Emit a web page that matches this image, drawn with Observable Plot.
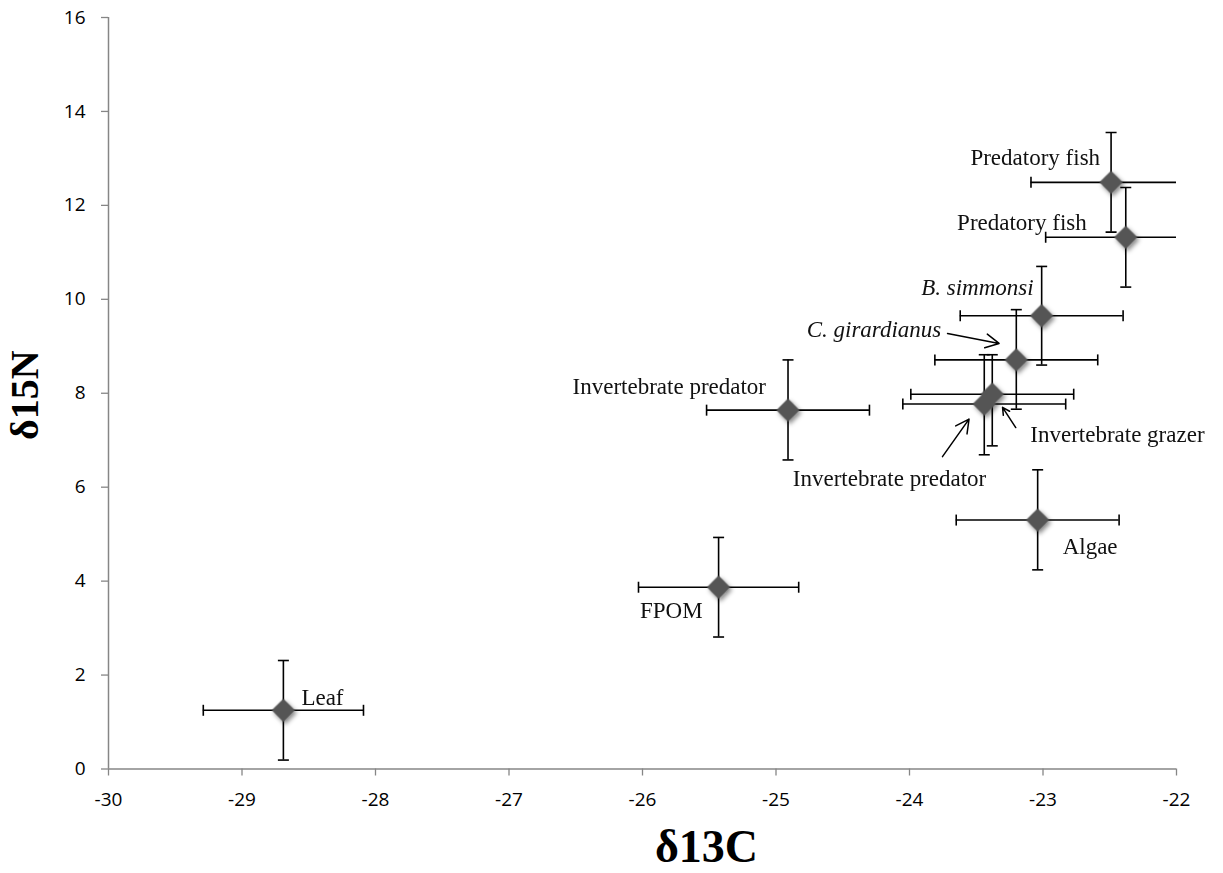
<!DOCTYPE html>
<html>
<head>
<meta charset="utf-8">
<script src="https://cdn.jsdelivr.net/npm/d3@7"></script>
<script src="https://cdn.jsdelivr.net/npm/@observablehq/plot@0.6"></script>
<style>
  html, body { margin: 0; padding: 0; background: #fff; }
  #chart svg { display: block; }
</style>
</head>
<body>
<div id="chart"></div>
<script>
// ---- Data ----
const groups  = ["Leaf", "FPOM", "Invertebrate predator", "Algae", "Invertebrate predator",
                 "Invertebrate grazer", "C. girardianus", "B. simmonsi", "Predatory fish", "Predatory fish"];
const d13C    = [-28.69, -25.43, -24.91, -23.04, -23.44, -23.38, -23.20, -23.01, -22.49, -22.38];
const d15N    = [1.25, 3.87, 7.64, 5.30, 7.77, 7.98, 8.71, 9.65, 12.49, 11.32];
const errC    = [0.60, 0.60, 0.61, 0.61, 0.61, 0.61, 0.61, 0.61, 0.60, 0.60];
const errNLo  = [1.06, 1.06, 1.06, 1.06, 1.08, 1.10, 1.05, 1.05, 1.06, 1.06];
const errNHi  = [1.06, 1.06, 1.07, 1.07, 1.05, 0.84, 1.07, 1.05, 1.06, 1.06];
const italic  = [false, false, false, false, false, false, true, true, false, false];
const xTicks  = [-30, -29, -28, -27, -26, -25, -24, -23, -22];
const yTicks  = [0, 2, 4, 6, 8, 10, 12, 14, 16];

const data = groups.map((g, i) => ({
  group: g, x: d13C[i], y: d15N[i],
  x1: d13C[i] - errC[i], x2: d13C[i] + errC[i],
  y1: d15N[i] - errNLo[i], y2: d15N[i] + errNHi[i],
  italic: italic[i]
}));

// label placement (pixel offsets, text anchor) per point
const labelPos = [
  {dx: 18, dy: -13, anchor: "start"},   // Leaf
  {dx: -16, dy: 23, anchor: "end"},     // FPOM
  {dx: -22, dy: -24, anchor: "end"},    // Invertebrate predator (left)
  {dx: 25, dy: 27, anchor: "start"},    // Algae
  {dx: 2, dy: 75, anchor: "end"},       // Invertebrate predator (arrow)
  {dx: 38, dy: 40, anchor: "start"},    // Invertebrate grazer (arrow)
  {dx: -75, dy: -30, anchor: "end"},    // C. girardianus (arrow)
  {dx: -8, dy: -28, anchor: "end"},     // B. simmonsi
  {dx: -11, dy: -25, anchor: "end"},    // Predatory fish
  {dx: -39, dy: -15, anchor: "end"}     // Predatory fish
];

// callout arrows, as offsets (data units) from the point they point to
const arrowIdx = [6, 5, 4];
const arrowFrom = [[-0.515, 0.56], [0.176, -0.71], [-0.313, -1.12]];
const arrowTo   = [[-0.129, 0.35], [0.077, -0.28], [-0.114, -0.32]];
const arrows = arrowIdx.map((k, j) => ({
  x1: d13C[k] + arrowFrom[j][0], y1: d15N[k] + arrowFrom[j][1],
  x2: d13C[k] + arrowTo[j][0],   y2: d15N[k] + arrowTo[j][1]
}));

// custom cap symbols
const capV = { draw(ctx, size) { const r = Math.sqrt(size / Math.PI); ctx.moveTo(0, -r); ctx.lineTo(0, r); } };
const capH = { draw(ctx, size) { const r = Math.sqrt(size / Math.PI); ctx.moveTo(-r, 0); ctx.lineTo(r, 0); } };

const axisGray = "#868686";
const serif = "'Liberation Serif', 'Times New Roman', serif";

const labelMarks = data.map((d, i) => Plot.text([d], {
  x: "x", y: "y", text: "group",
  dx: labelPos[i].dx, dy: labelPos[i].dy, textAnchor: labelPos[i].anchor,
  fontSize: 23, fontFamily: serif, fontStyle: d.italic ? "italic" : "normal",
  fill: "#111", lineAnchor: "middle"
}));

const chart = Plot.plot({
  width: 1223,
  height: 873,
  marginLeft: 108,
  marginRight: 47,
  marginTop: 17,
  marginBottom: 104.5,
  style: { background: "#fff", fontFamily: "'Open Sans', sans-serif" },
  x: { domain: [-30, -22] },
  y: { domain: [0, 16] },
  marks: [
    Plot.axisX({ ticks: xTicks, tickSize: 7, tickPadding: 16, stroke: axisGray, strokeWidth: 1.3,
                 fill: "#000", fontSize: 19, label: null, tickFormat: d => String(d).replace("−", "-") }),
    Plot.axisY({ ticks: yTicks, tickSize: 7, tickPadding: 16, stroke: axisGray, strokeWidth: 1.3,
                 fill: "#000", fontSize: 19, label: null }),
    Plot.ruleX([-30], { stroke: axisGray, strokeWidth: 1.5 }),
    Plot.ruleY([0], { stroke: axisGray, strokeWidth: 1.5 }),
    // error bars
    Plot.ruleY(data, { y: "y", x1: "x1", x2: "x2", stroke: "#000", strokeWidth: 1.6, clip: true }),
    Plot.ruleX(data, { x: "x", y1: "y1", y2: "y2", stroke: "#000", strokeWidth: 1.6, clip: true }),
    Plot.dot(data, { x: "x1", y: "y", symbol: capV, r: 5.5, stroke: "#000", strokeWidth: 1.6, fill: "none", clip: true }),
    Plot.dot(data, { x: "x2", y: "y", symbol: capV, r: 5.5, stroke: "#000", strokeWidth: 1.6, fill: "none", clip: true }),
    Plot.dot(data, { x: "x", y: "y1", symbol: capH, r: 5.5, stroke: "#000", strokeWidth: 1.6, fill: "none", clip: true }),
    Plot.dot(data, { x: "x", y: "y2", symbol: capH, r: 5.5, stroke: "#000", strokeWidth: 1.6, fill: "none", clip: true }),
    // markers
    Plot.dot(data, { x: "x", y: "y", symbol: "diamond2", r: 10.5, fill: "#555555", stroke: "none",
                     className: "markers" }),
    // callout arrows
    Plot.arrow(arrows, { x1: "x1", y1: "y1", x2: "x2", y2: "y2", stroke: "#000", strokeWidth: 1.5,
                         headLength: 15, headAngle: 55 }),
    ...labelMarks,
    // axis titles
    Plot.text(["δ15N"], { frameAnchor: "left", textAnchor: "middle", dx: -83, dy: 2, rotate: -90, fontSize: 40,
                          fontWeight: "bold", fontFamily: serif, fill: "#000", lineAnchor: "middle" }),
    Plot.text(["δ13C"], { frameAnchor: "bottom", textAnchor: "middle", dx: 64, dy: 78, fontSize: 46,
                          fontWeight: "bold", fontFamily: serif, fill: "#000", lineAnchor: "middle" })
  ]
});

// drop shadow on markers
const svg = d3.select(chart);
const defs = svg.insert("defs", ":first-child");
const f = defs.append("filter").attr("id", "mkshadow").attr("x", "-50%").attr("y", "-50%")
  .attr("width", "200%").attr("height", "200%");
f.append("feDropShadow").attr("dx", 2).attr("dy", 2.5).attr("stdDeviation", 2.2)
  .attr("flood-color", "#000").attr("flood-opacity", 0.45);
svg.selectAll("g[class*='markers']").attr("filter", "url(#mkshadow)");

document.getElementById("chart").appendChild(chart);
</script>
</body>
</html>
